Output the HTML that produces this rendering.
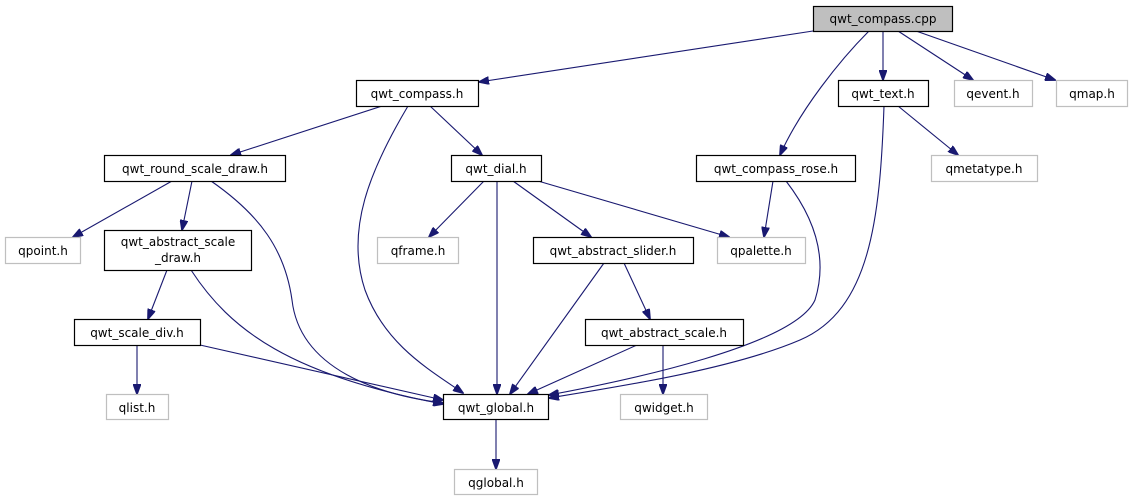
<!DOCTYPE html>
<html><head><meta charset="utf-8"><style>
html,body{margin:0;padding:0;background:#fff;}
svg{display:block;}
text{font-family:"DejaVu Sans","Liberation Sans",sans-serif;font-size:12px;fill:#000;text-anchor:middle;}
.b{fill:#fff;stroke:#000;stroke-width:1.2;}
.g{fill:#fff;stroke:#bfbfbf;stroke-width:1.2;}
.e{fill:none;stroke:#191970;stroke-width:1.1;}
</style></head><body>
<svg width="1133" height="500" viewBox="0 0 1133 500">
<defs>
<marker id="a" markerWidth="11" markerHeight="8" refX="10" refY="4" orient="auto" markerUnits="userSpaceOnUse">
<polygon points="0,0 11,4 0,8" fill="#191970" stroke="#191970"/>
</marker>
</defs>
<g class="e" marker-end="url(#a)">
<path d="M813,31 L479,82"/>
<path d="M869,31 C840,60 800,110 780,155"/>
<path d="M883,31 L883,80"/>
<path d="M898,31 L973,80"/>
<path d="M916,31 L1055,80"/>
<path d="M382,106 L231,155"/>
<path d="M430,106 L482,155"/>
<path d="M408,106 C370,170 345,230 365,290 C385,345 430,370 463,393"/>
<path d="M898,106 L958,155"/>
<path d="M884,106 C880,220 870,310 800,340 C730,370 610,388 549,398"/>
<path d="M773,181 L764,237"/>
<path d="M786,181 C820,225 826,265 815,300 C795,345 630,380 549,395"/>
<path d="M172,181 L73,237"/>
<path d="M192,181 L182,230"/>
<path d="M211,181 C260,215 285,250 292,300 C300,370 380,395 443,403"/>
<path d="M484,181 L429,237"/>
<path d="M497,181 L497,394"/>
<path d="M513,181 L591,237"/>
<path d="M538,181 L729,237"/>
<path d="M167,270 L148,319"/>
<path d="M191,270 C230,330 290,375 443,404"/>
<path d="M137,345 L137,394"/>
<path d="M200,345 L443,400"/>
<path d="M624,263 L650,319"/>
<path d="M604,263 L510,394"/>
<path d="M637,345 L528,394"/>
<path d="M663,345 L663,394"/>
<path d="M496,419 L496,469"/>
</g>
<rect x="813.5" y="6.5" width="139" height="25" fill="#bfbfbf" stroke="#000" stroke-width="1.2"/>
<text x="883" y="23">qwt_compass.cpp</text>
<rect class="b" x="356.5" y="80.5" width="122" height="26"/><text x="417" y="98">qwt_compass.h</text>
<rect class="b" x="838.5" y="80.5" width="90" height="26"/><text x="883" y="98">qwt_text.h</text>
<rect class="g" x="954.5" y="80.5" width="78" height="26"/><text x="993" y="98">qevent.h</text>
<rect class="g" x="1056.5" y="80.5" width="71" height="26"/><text x="1092" y="98">qmap.h</text>
<rect class="b" x="104.5" y="155.5" width="181" height="26"/><text x="195" y="173">qwt_round_scale_draw.h</text>
<rect class="b" x="451.5" y="155.5" width="90" height="26"/><text x="496" y="173">qwt_dial.h</text>
<rect class="b" x="696.5" y="155.5" width="159" height="26"/><text x="776" y="173">qwt_compass_rose.h</text>
<rect class="g" x="931.5" y="155.5" width="106" height="26"/><text x="984" y="173">qmetatype.h</text>
<rect class="g" x="5.5" y="237.5" width="75" height="26"/><text x="43" y="255">qpoint.h</text>
<rect class="b" x="104.5" y="230.5" width="147" height="40"/><text x="178" y="246">qwt_abstract_scale</text><text x="178" y="262">_draw.h</text>
<rect class="g" x="377.5" y="237.5" width="81" height="26"/><text x="418" y="255">qframe.h</text>
<rect class="b" x="533.5" y="237.5" width="160" height="26"/><text x="613" y="255">qwt_abstract_slider.h</text>
<rect class="g" x="717.5" y="237.5" width="88" height="26"/><text x="761" y="255">qpalette.h</text>
<rect class="b" x="74.5" y="319.5" width="126" height="26"/><text x="137" y="337">qwt_scale_div.h</text>
<rect class="b" x="585.5" y="319.5" width="158" height="26"/><text x="664" y="337">qwt_abstract_scale.h</text>
<rect class="g" x="106.5" y="394.5" width="62" height="25"/><text x="137" y="412">qlist.h</text>
<rect class="b" x="443.5" y="394.5" width="105" height="25"/><text x="496" y="412">qwt_global.h</text>
<rect class="g" x="620.5" y="394.5" width="87" height="25"/><text x="664" y="412">qwidget.h</text>
<rect class="g" x="454.5" y="469.5" width="83" height="25"/><text x="496" y="487">qglobal.h</text>
</svg>
</body></html>
